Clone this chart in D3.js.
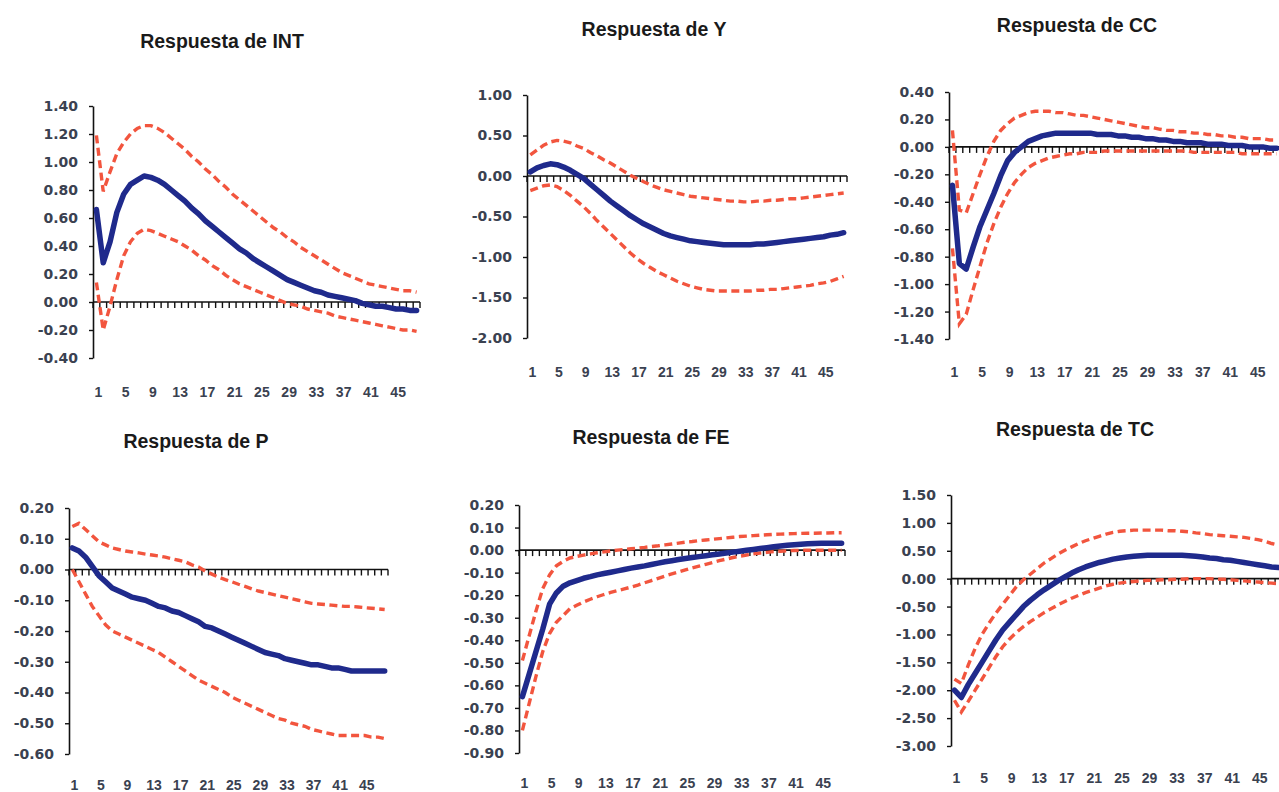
<!DOCTYPE html>
<html>
<head>
<meta charset="utf-8">
<script src="https://cdn.jsdelivr.net/npm/d3@7"></script>
<style>
  body { margin: 0; background: #fff; }
  text { font-family: Arial, "Liberation Sans", sans-serif; }
  .ytick text { font-family: "DejaVu Sans", Verdana, sans-serif; }
</style>
</head>
<body>
<svg id="chart"></svg>
<script>
const periods = [1, 2, 3, 4, 5, 6, 7, 8, 9, 10, 11, 12, 13, 14, 15, 16, 17, 18, 19, 20,
  21, 22, 23, 24, 25, 26, 27, 28, 29, 30, 31, 32, 33, 34, 35, 36, 37, 38, 39, 40,
  41, 42, 43, 44, 45, 46, 47, 48];
const xLabels = [1, 5, 9, 13, 17, 21, 25, 29, 33, 37, 41, 45];

// Respuesta de INT
const intResp = [0.66, 0.28, 0.43, 0.64, 0.77, 0.84, 0.87, 0.90, 0.89, 0.87,
  0.84, 0.80, 0.76, 0.72, 0.67, 0.63, 0.58, 0.54, 0.50, 0.46,
  0.42, 0.38, 0.35, 0.31, 0.28, 0.25, 0.22, 0.19, 0.16, 0.14,
  0.12, 0.10, 0.08, 0.07, 0.05, 0.04, 0.03, 0.02, 0.01, -0.01,
  -0.02, -0.03, -0.03, -0.04, -0.05, -0.05, -0.06, -0.06];
const intHi = [1.19, 0.79, 0.93, 1.06, 1.14, 1.20, 1.24, 1.26, 1.26, 1.24,
  1.21, 1.17, 1.13, 1.09, 1.04, 1.00, 0.95, 0.91, 0.86, 0.82,
  0.77, 0.73, 0.69, 0.65, 0.61, 0.57, 0.53, 0.50, 0.46, 0.43,
  0.39, 0.36, 0.33, 0.30, 0.27, 0.24, 0.21, 0.19, 0.17, 0.15,
  0.13, 0.12, 0.11, 0.10, 0.09, 0.08, 0.08, 0.07];
const intLo = [0.14, -0.20, -0.03, 0.16, 0.33, 0.43, 0.49, 0.52, 0.51, 0.49,
  0.47, 0.45, 0.43, 0.40, 0.37, 0.33, 0.30, 0.26, 0.23, 0.19,
  0.16, 0.13, 0.11, 0.09, 0.07, 0.05, 0.03, 0.01, -0.01, -0.02,
  -0.03, -0.05, -0.06, -0.07, -0.08, -0.10, -0.11, -0.12, -0.13, -0.14,
  -0.15, -0.16, -0.17, -0.18, -0.19, -0.20, -0.20, -0.21];
const intTicks = [1.4, 1.2, 1.0, 0.8, 0.6, 0.4, 0.2, 0, -0.2, -0.4];

// Respuesta de Y
const yResp = [0.05, 0.10, 0.13, 0.15, 0.14, 0.11, 0.07, 0.02, -0.03, -0.10,
  -0.17, -0.24, -0.31, -0.37, -0.43, -0.49, -0.54, -0.59, -0.63, -0.67,
  -0.71, -0.74, -0.76, -0.78, -0.80, -0.81, -0.82, -0.83, -0.84, -0.85,
  -0.85, -0.85, -0.85, -0.85, -0.84, -0.84, -0.83, -0.82, -0.81, -0.80,
  -0.79, -0.78, -0.77, -0.76, -0.75, -0.73, -0.72, -0.70];
const yHi = [0.26, 0.32, 0.38, 0.42, 0.44, 0.43, 0.41, 0.37, 0.34, 0.29,
  0.25, 0.20, 0.16, 0.11, 0.06, 0.01, -0.03, -0.07, -0.11, -0.14,
  -0.17, -0.19, -0.21, -0.23, -0.25, -0.26, -0.27, -0.28, -0.29, -0.30,
  -0.31, -0.31, -0.32, -0.32, -0.31, -0.31, -0.30, -0.30, -0.29, -0.28,
  -0.28, -0.27, -0.26, -0.25, -0.24, -0.23, -0.22, -0.21];
const yLo = [-0.18, -0.15, -0.12, -0.11, -0.13, -0.18, -0.24, -0.31, -0.38, -0.46,
  -0.55, -0.63, -0.71, -0.79, -0.87, -0.95, -1.02, -1.08, -1.13, -1.18,
  -1.22, -1.26, -1.30, -1.33, -1.36, -1.38, -1.40, -1.41, -1.42, -1.42,
  -1.42, -1.42, -1.42, -1.42, -1.41, -1.41, -1.40, -1.40, -1.39, -1.38,
  -1.37, -1.36, -1.35, -1.33, -1.32, -1.30, -1.27, -1.24];
const yTicks = [1, 0.5, 0, -0.5, -1, -1.5, -2];

// Respuesta de CC
const ccResp = [-0.28, -0.85, -0.89, -0.73, -0.58, -0.46, -0.34, -0.21, -0.10, -0.04,
  0.00, 0.04, 0.06, 0.08, 0.09, 0.10, 0.10, 0.10, 0.10, 0.10,
  0.10, 0.09, 0.09, 0.09, 0.08, 0.08, 0.07, 0.07, 0.06, 0.06,
  0.05, 0.05, 0.04, 0.04, 0.03, 0.03, 0.03, 0.02, 0.02, 0.02,
  0.01, 0.01, 0.01, 0.00, 0.00, 0.00, -0.01, -0.01];
const ccHi = [0.12, -0.46, -0.48, -0.34, -0.20, -0.07, 0.04, 0.12, 0.17, 0.21,
  0.23, 0.25, 0.26, 0.26, 0.26, 0.25, 0.25, 0.24, 0.23, 0.23,
  0.22, 0.21, 0.20, 0.19, 0.18, 0.17, 0.16, 0.15, 0.14, 0.14,
  0.13, 0.12, 0.12, 0.11, 0.11, 0.10, 0.10, 0.09, 0.09, 0.08,
  0.08, 0.07, 0.07, 0.06, 0.06, 0.06, 0.05, 0.05];
const ccLo = [-0.74, -1.29, -1.22, -1.04, -0.87, -0.70, -0.56, -0.44, -0.34, -0.26,
  -0.20, -0.15, -0.12, -0.10, -0.08, -0.07, -0.06, -0.05, -0.05, -0.04,
  -0.04, -0.04, -0.03, -0.03, -0.03, -0.03, -0.03, -0.03, -0.03, -0.03,
  -0.03, -0.03, -0.03, -0.03, -0.03, -0.04, -0.04, -0.04, -0.04, -0.04,
  -0.04, -0.04, -0.05, -0.05, -0.05, -0.05, -0.05, -0.05];
const ccTicks = [0.4, 0.2, 0, -0.2, -0.4, -0.6, -0.8, -1.0, -1.2, -1.4];

// Respuesta de P
const pResp = [0.07, 0.06, 0.04, 0.01, -0.02, -0.04, -0.06, -0.07, -0.08, -0.09,
  -0.095, -0.10, -0.11, -0.12, -0.125, -0.135, -0.14, -0.15, -0.16, -0.17,
  -0.185, -0.19, -0.20, -0.21, -0.22, -0.23, -0.24, -0.25, -0.26, -0.27,
  -0.275, -0.28, -0.29, -0.295, -0.30, -0.305, -0.31, -0.31, -0.315, -0.32,
  -0.32, -0.325, -0.33, -0.33, -0.33, -0.33, -0.33, -0.33];
const pHi = [0.14, 0.15, 0.13, 0.11, 0.09, 0.08, 0.07, 0.065, 0.06, 0.057,
  0.054, 0.05, 0.047, 0.044, 0.04, 0.035, 0.03, 0.025, 0.015, 0.008,
  -0.005, -0.015, -0.025, -0.033, -0.04, -0.048, -0.055, -0.063, -0.07, -0.075,
  -0.08, -0.085, -0.09, -0.095, -0.10, -0.105, -0.11, -0.112, -0.114, -0.116,
  -0.118, -0.12, -0.12, -0.122, -0.124, -0.126, -0.128, -0.13];
const pLo = [0.00, -0.04, -0.08, -0.12, -0.15, -0.18, -0.20, -0.21, -0.22, -0.23,
  -0.24, -0.25, -0.26, -0.27, -0.285, -0.30, -0.315, -0.33, -0.345, -0.36,
  -0.37, -0.38, -0.39, -0.40, -0.415, -0.425, -0.435, -0.445, -0.455, -0.465,
  -0.475, -0.485, -0.49, -0.50, -0.505, -0.51, -0.52, -0.525, -0.53, -0.535,
  -0.54, -0.54, -0.54, -0.54, -0.54, -0.545, -0.545, -0.55];
const pTicks = [0.2, 0.1, 0, -0.1, -0.2, -0.3, -0.4, -0.5, -0.6];

// Respuesta de FE
const feResp = [-0.65, -0.55, -0.45, -0.35, -0.24, -0.19, -0.16, -0.145, -0.135, -0.125,
  -0.118, -0.11, -0.104, -0.098, -0.092, -0.086, -0.08, -0.075, -0.07, -0.064,
  -0.058, -0.052, -0.047, -0.042, -0.037, -0.033, -0.029, -0.025, -0.021, -0.017,
  -0.013, -0.009, -0.005, -0.001, 0.003, 0.007, 0.011, 0.015, 0.018, 0.021,
  0.024, 0.026, 0.028, 0.029, 0.03, 0.03, 0.03, 0.03];
const feHi = [-0.49, -0.38, -0.27, -0.17, -0.11, -0.07, -0.05, -0.035, -0.028, -0.022,
  -0.017, -0.012, -0.008, -0.004, 0.000, 0.003, 0.006, 0.009, 0.012, 0.016,
  0.019, 0.023, 0.027, 0.031, 0.035, 0.038, 0.042, 0.045, 0.048, 0.051,
  0.054, 0.057, 0.06, 0.062, 0.064, 0.066, 0.068, 0.07, 0.071, 0.072,
  0.073, 0.074, 0.075, 0.075, 0.076, 0.076, 0.077, 0.077];
const feLo = [-0.80, -0.68, -0.56, -0.45, -0.37, -0.32, -0.29, -0.26, -0.245, -0.23,
  -0.218, -0.207, -0.197, -0.188, -0.18, -0.172, -0.164, -0.155, -0.145, -0.135,
  -0.125, -0.115, -0.106, -0.097, -0.088, -0.079, -0.071, -0.063, -0.055, -0.047,
  -0.04, -0.033, -0.027, -0.022, -0.017, -0.013, -0.01, -0.007, -0.005, -0.003,
  -0.002, -0.001, -0.001, -0.001, -0.001, -0.001, -0.001, -0.001];
const feTicks = [0.2, 0.1, 0, -0.1, -0.2, -0.3, -0.4, -0.5, -0.6, -0.7, -0.8, -0.9];

// Respuesta de TC
const tcResp = [-2.00, -2.13, -1.90, -1.70, -1.50, -1.30, -1.10, -0.92, -0.78, -0.64,
  -0.50, -0.39, -0.29, -0.20, -0.12, -0.04, 0.03, 0.10, 0.16, 0.21,
  0.25, 0.29, 0.32, 0.35, 0.37, 0.39, 0.40, 0.41, 0.42, 0.42,
  0.42, 0.42, 0.42, 0.42, 0.41, 0.40, 0.39, 0.37, 0.36, 0.34,
  0.33, 0.31, 0.29, 0.27, 0.25, 0.23, 0.21, 0.20];
const tcHi = [-1.80, -1.88, -1.55, -1.25, -1.00, -0.80, -0.62, -0.46, -0.30, -0.14,
  -0.02, 0.08, 0.18, 0.28, 0.36, 0.44, 0.51, 0.57, 0.63, 0.68,
  0.72, 0.76, 0.80, 0.83, 0.85, 0.86, 0.87, 0.87, 0.87, 0.87,
  0.87, 0.86, 0.86, 0.85, 0.84, 0.82, 0.81, 0.79, 0.78, 0.77,
  0.76, 0.75, 0.74, 0.72, 0.70, 0.67, 0.63, 0.60];
const tcLo = [-2.18, -2.39, -2.20, -2.00, -1.80, -1.60, -1.40, -1.22, -1.08, -0.96,
  -0.86, -0.77, -0.69, -0.61, -0.54, -0.47, -0.41, -0.35, -0.30, -0.25,
  -0.21, -0.17, -0.13, -0.10, -0.08, -0.06, -0.05, -0.04, -0.03, -0.03,
  -0.02, -0.02, -0.01, -0.01, 0.00, 0.00, 0.00, 0.00, -0.01, -0.01,
  -0.02, -0.03, -0.04, -0.05, -0.06, -0.07, -0.08, -0.09];
const tcTicks = [1.5, 1.0, 0.5, 0, -0.5, -1.0, -1.5, -2.0, -2.5, -3.0];

const width = 1279,
  height = 792;

// panel placement in the page
const panels = [
  { title: "Respuesta de INT", resp: intResp, hi: intHi, lo: intLo, ticks: intTicks,
    x0: 93, x1: 420, yTop: 106, yBot: 358, titleX: 222, titleY: 48, labelY: 397 },
  { title: "Respuesta de Y", resp: yResp, hi: yHi, lo: yLo, ticks: yTicks,
    x0: 527, x1: 847, yTop: 95, yBot: 338, titleX: 654, titleY: 36, labelY: 377 },
  { title: "Respuesta de CC", resp: ccResp, hi: ccHi, lo: ccLo, ticks: ccTicks,
    x0: 949, x1: 1280, yTop: 92, yBot: 339, titleX: 1077, titleY: 32, labelY: 377 },
  { title: "Respuesta de P", resp: pResp, hi: pHi, lo: pLo, ticks: pTicks,
    x0: 69, x1: 388, yTop: 508, yBot: 754, titleX: 196, titleY: 448, labelY: 790 },
  { title: "Respuesta de FE", resp: feResp, hi: feHi, lo: feLo, ticks: feTicks,
    x0: 519, x1: 845, yTop: 505, yBot: 753, titleX: 651, titleY: 444, labelY: 788 },
  { title: "Respuesta de TC", resp: tcResp, hi: tcHi, lo: tcLo, ticks: tcTicks,
    x0: 951, x1: 1282, yTop: 495, yBot: 746, titleX: 1075, titleY: 436, labelY: 783 }
];

const svg = d3
  .select("#chart")
  .attr("width", width)
  .attr("height", height);

svg.append("rect").attr("width", width).attr("height", height).attr("fill", "#fff");

function drawPanel(p) {
  const x = d3.scaleBand().domain(periods).range([p.x0, p.x1]);
  const y = d3.scaleLinear().domain(d3.extent(p.ticks)).range([p.yBot, p.yTop]);
  const cx = (d) => x(d) + x.bandwidth() / 2;
  const g = svg.append("g");

  // Title
  g.append("text")
    .attr("x", p.titleX)
    .attr("y", p.titleY)
    .attr("text-anchor", "middle")
    .attr("font-size", 19.5)
    .attr("font-weight", "bold")
    .attr("fill", "#1a1a1a")
    .text(p.title);

  // Y Axis
  const yAxis = g
    .append("g")
    .attr("class", "ytick")
    .attr("transform", `translate(${p.x0},0)`)
    .call(
      d3.axisLeft(y)
        .tickValues(p.ticks)
        .tickSize(4)
        .tickSizeOuter(0)
        .tickPadding(11)
        .tickFormat((d) => d.toFixed(2))
    );
  yAxis.select(".domain").attr("stroke", "#111").attr("stroke-width", 1.6);
  yAxis.selectAll(".tick line").attr("stroke", "#111").attr("stroke-width", 1.4);
  yAxis.selectAll("text")
    .attr("font-size", 14)
    .attr("font-weight", "bold")
    .attr("fill", "#3a4150");

  // X Axis at zero, ticks between categories
  const y0 = y(0);
  g.append("line")
    .attr("x1", p.x0).attr("x2", p.x1)
    .attr("y1", y0).attr("y2", y0)
    .attr("stroke", "#111").attr("stroke-width", 1.6);
  g.selectAll(".xtick")
    .data(periods.concat(["end"]))
    .join("line")
    .attr("x1", (d) => (d === "end" ? p.x1 : x(d)))
    .attr("x2", (d) => (d === "end" ? p.x1 : x(d)))
    .attr("y1", y0)
    .attr("y2", y0 + 6)
    .attr("stroke", "#111")
    .attr("stroke-width", 1.4);

  g.selectAll(".xlabel")
    .data(xLabels)
    .join("text")
    .attr("x", (d) => cx(d) + 2)
    .attr("y", p.labelY)
    .attr("text-anchor", "middle")
    .attr("font-size", 14)
    .attr("font-weight", "bold")
    .attr("fill", "#3a4150")
    .text((d) => d);

  const line = (vals) =>
    d3.line()
      .x((d, i) => cx(periods[i]))
      .y((d) => y(d))(vals);

  // Confidence bands
  [p.lo, p.hi].forEach((band) => {
    g.append("path")
      .attr("d", line(band))
      .attr("fill", "none")
      .attr("stroke", "#f2553e")
      .attr("stroke-width", 3.4)
      .attr("stroke-dasharray", "8,4.5");
  });

  // Response
  g.append("path")
    .attr("d", line(p.resp))
    .attr("fill", "none")
    .attr("stroke", "#1f2a8c")
    .attr("stroke-width", 5.5)
    .attr("stroke-linejoin", "round")
    .attr("stroke-linecap", "round");
}

panels.forEach(drawPanel);
</script>
</body>
</html>
